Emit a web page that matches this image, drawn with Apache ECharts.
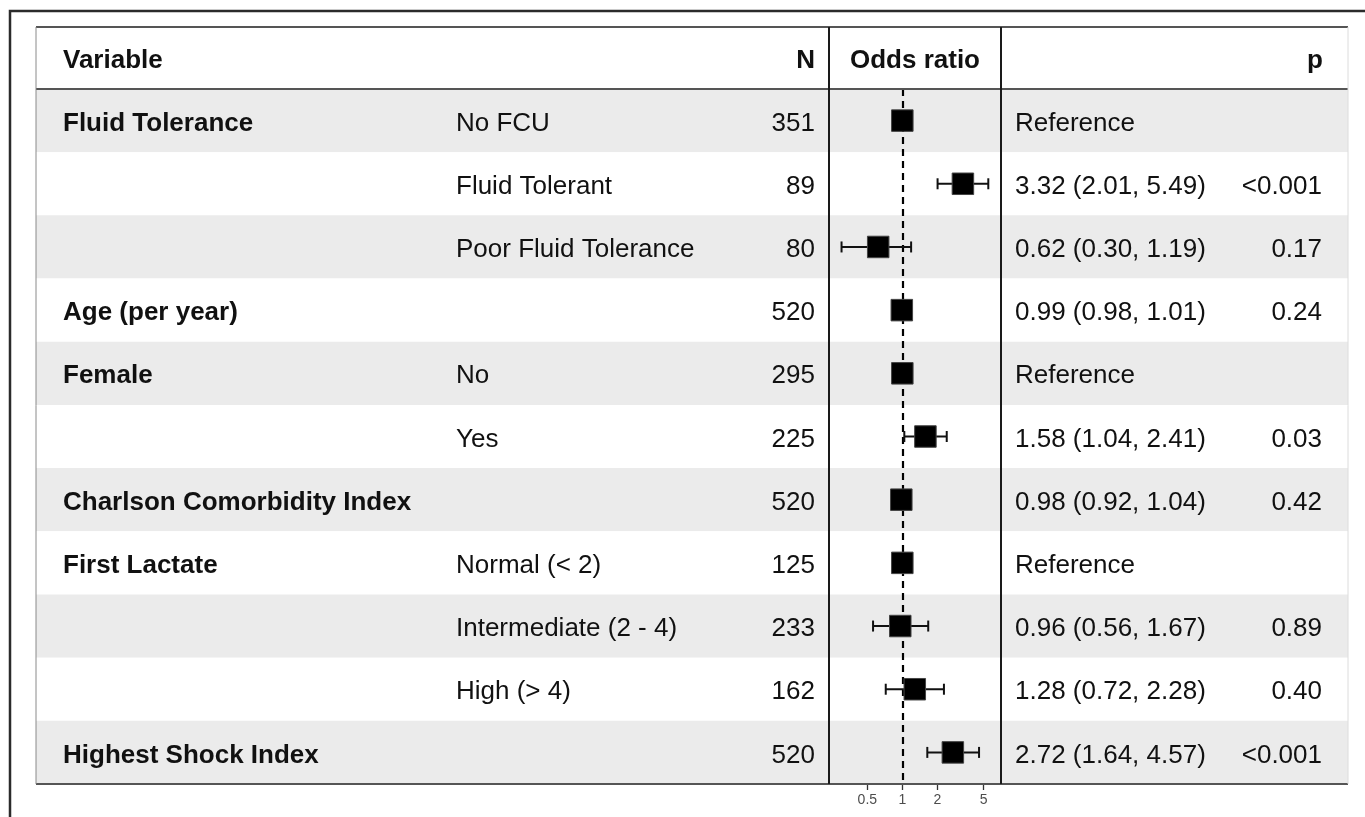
<!DOCTYPE html>
<html>
<head>
<meta charset="utf-8">
<script src="https://cdn.jsdelivr.net/npm/echarts@6/dist/echarts.min.js"></script>
<style>
  html, body { margin: 0; padding: 0; background: #ffffff; }
  #chart { width: 1365px; height: 817px; }
</style>
</head>
<body>
<div id="chart"></div>
<script>
// ---- Model results: logistic regression, one row per term level ----
const variables = ['Fluid Tolerance', '', '', 'Age (per year)', 'Female', '', 'Charlson Comorbidity Index', 'First Lactate', '', '', 'Highest Shock Index'];
const levels = ['No FCU', 'Fluid Tolerant', 'Poor Fluid Tolerance', '', 'No', 'Yes', '', 'Normal (< 2)', 'Intermediate (2 - 4)', 'High (> 4)', ''];
const counts = [351, 89, 80, 520, 295, 225, 520, 125, 233, 162, 520];
const oddsRatios = [1, 3.32, 0.62, 0.99, 1, 1.58, 0.98, 1, 0.96, 1.28, 2.72];
const lowerCI = [null, 2.01, 0.30, 0.98, null, 1.04, 0.92, null, 0.56, 0.72, 1.64];
const upperCI = [null, 5.49, 1.19, 1.01, null, 2.41, 1.04, null, 1.67, 2.28, 4.57];
const pValues = ['', '<0.001', '0.17', '0.24', '', '0.03', '0.42', '', '0.89', '0.40', '<0.001'];
const axisTicks = [0.5, 1, 2, 5];
const headers = { variable: 'Variable', n: 'N', or: 'Odds ratio', p: 'p' };
const referenceText = 'Reference';

// ---- Layout (pixels) ----
const L = {
  tableLeft: 36, tableRight: 1348, tableTop: 27, headBottom: 89, tableBottom: 784,
  plotLeft: 829, plotRight: 1001,
  // text anchors measured from the table's left edge
  colVar: 27, colLevel: 420, colN: 779, colEst: 979, colP: 1286,
  textDy: 3,
  orMin: 0.234, orMax: 7.06
};
const FONT = '"Liberation Sans", Arial, Helvetica, sans-serif';
const TEXT_COLOR = '#111111';
const FS = 26;

const rowIdx = counts.map((_, i) => i);
const fmt = v => v.toFixed(2);
const estimateText = rowIdx.map(i =>
  lowerCI[i] == null ? referenceText : `${fmt(oddsRatios[i])} (${fmt(lowerCI[i])}, ${fmt(upperCI[i])})`);

const chart = echarts.init(document.getElementById('chart'), null, { renderer: 'canvas' });

const tableWidth = L.tableRight - L.tableLeft;
const bodyHeight = L.tableBottom - L.headBottom;

function textEl(str, x, y, align, bold, size, color) {
  return {
    type: 'text',
    z: 21,
    style: {
      text: str, x: x, y: y + L.textDy,
      align: align, verticalAlign: 'middle',
      fontFamily: FONT, fontSize: size || FS, fontWeight: bold ? 'bold' : 'normal',
      fill: color || TEXT_COLOR
    }
  };
}

function hLine(y, color, w) {
  return { type: 'line', z: 20, shape: { x1: L.tableLeft, y1: y, x2: L.tableRight, y2: y },
           style: { stroke: color, lineWidth: w } };
}
function vLine(x, y1, y2, color, w) {
  return { type: 'line', z: 20, shape: { x1: x, y1: y1, x2: x, y2: y2 },
           style: { stroke: color, lineWidth: w } };
}

const headMid = (L.tableTop + L.headBottom) / 2;

const option = {
  animation: false,
  backgroundColor: '#ffffff',
  grid: [
    { left: L.tableLeft, top: L.headBottom, width: tableWidth, height: bodyHeight },
    { left: L.plotLeft, top: L.headBottom, width: L.plotRight - L.plotLeft, height: bodyHeight }
  ],
  xAxis: [
    { type: 'value', gridIndex: 0, min: 0, max: tableWidth, show: false },
    {
      type: 'log', gridIndex: 1, min: L.orMin, max: L.orMax,
      axisLine: { show: false },
      splitLine: { show: false },
      axisTick: { show: true, customValues: axisTicks, length: 6, lineStyle: { color: '#333333', width: 1.3 } },
      axisLabel: {
        customValues: axisTicks, margin: 9, fontSize: 14, color: '#4d4d4d', fontFamily: FONT,
        formatter: v => String(+(+v).toPrecision(3))
      }
    }
  ],
  yAxis: [
    {
      type: 'category', gridIndex: 0, inverse: true, data: rowIdx,
      axisLine: { show: false }, axisTick: { show: false }, axisLabel: { show: false },
      splitLine: { show: false },
      splitArea: { show: true, areaStyle: { color: ['#ebebeb', '#ffffff'] } }
    },
    {
      type: 'category', gridIndex: 1, inverse: true, data: rowIdx,
      axisLine: { show: false }, axisTick: { show: false }, axisLabel: { show: false },
      splitLine: { show: false }
    }
  ],
  series: [
    {
      // row text: variable, level, N, estimate and p
      type: 'custom', name: 'rows', xAxisIndex: 0, yAxisIndex: 0, z: 5, silent: true,
      data: rowIdx.map(i => [0, i]),
      encode: { x: 0, y: 1 },
      renderItem: function (params, api) {
        const i = params.dataIndex;
        const y = api.coord([0, i])[1];
        const px = v => api.coord([v, i])[0];
        const kids = [];
        if (variables[i]) kids.push(textEl(variables[i], px(L.colVar), y, 'left', true));
        if (levels[i]) kids.push(textEl(levels[i], px(L.colLevel), y, 'left', false));
        kids.push(textEl(String(counts[i]), px(L.colN), y, 'right', false));
        kids.push(textEl(estimateText[i], px(L.colEst), y, 'left', false));
        if (pValues[i]) kids.push(textEl(pValues[i], px(L.colP), y, 'right', false));
        return { type: 'group', children: kids };
      }
    },
    {
      // no-effect reference line at OR = 1
      type: 'line', name: 'ref', xAxisIndex: 1, yAxisIndex: 1, z: 3, data: [], silent: true,
      markLine: {
        silent: true, symbol: ['none', 'none'], label: { show: false },
        lineStyle: { color: '#000000', width: 2.2, type: [7, 5] },
        data: [{ xAxis: 1 }]
      }
    },
    {
      // odds ratio squares with 95% CI whiskers
      type: 'custom', name: 'forest', xAxisIndex: 1, yAxisIndex: 1, z: 6, silent: true,
      data: rowIdx.map(i => [oddsRatios[i], i, lowerCI[i] == null ? '-' : lowerCI[i], upperCI[i] == null ? '-' : upperCI[i]]),
      encode: { x: 0, y: 1 },
      renderItem: function (params, api) {
        const i = params.dataIndex;
        const c = api.coord([api.value(0), i]);
        const kids = [];
        const lo = api.value(2), hi = api.value(3);
        const lineStyle = { stroke: '#111111', lineWidth: 2 };
        if (!isNaN(lo) && !isNaN(hi)) {
          const a = api.coord([lo, i])[0], b = api.coord([hi, i])[0];
          const cap = 5.5;
          kids.push({ type: 'line', shape: { x1: a, y1: c[1], x2: b, y2: c[1] }, style: lineStyle });
          kids.push({ type: 'line', shape: { x1: a, y1: c[1] - cap, x2: a, y2: c[1] + cap }, style: lineStyle });
          kids.push({ type: 'line', shape: { x1: b, y1: c[1] - cap, x2: b, y2: c[1] + cap }, style: lineStyle });
        }
        const s = 21.5;
        kids.push({ type: 'rect', shape: { x: c[0] - s / 2, y: c[1] - s / 2, width: s, height: s },
                    style: { fill: '#000000', stroke: '#444444', lineWidth: 1 } });
        return { type: 'group', children: kids };
      }
    }
  ],
  graphic: {
    elements: [
      // header text
      textEl(headers.variable, L.tableLeft + L.colVar, headMid, 'left', true),
      textEl(headers.n, L.tableLeft + L.colN, headMid, 'right', true),
      textEl(headers.or, (L.plotLeft + L.plotRight) / 2, headMid, 'center', true),
      textEl(headers.p, L.tableLeft + L.colP + 1, headMid, 'right', true),
      // table rules
      hLine(L.tableTop, '#555555', 2),
      hLine(L.headBottom, '#555555', 2),
      hLine(L.tableBottom, '#555555', 2),
      vLine(L.tableLeft, L.tableTop, L.tableBottom, '#8a8a8a', 1),
      vLine(L.tableRight, L.tableTop, L.tableBottom, '#dcdcdc', 1),
      vLine(L.plotLeft, L.tableTop, L.tableBottom, '#1a1a1a', 2),
      vLine(L.plotRight, L.tableTop, L.tableBottom, '#1a1a1a', 2),
      // outer frame
      { type: 'polyline', z: 20, shape: { points: [[10, 817], [10, 11], [1365, 11]] },
        style: { stroke: '#2b2b2b', lineWidth: 2.5, fill: null } }
    ]
  }
};

chart.setOption(option);
</script>
</body>
</html>
